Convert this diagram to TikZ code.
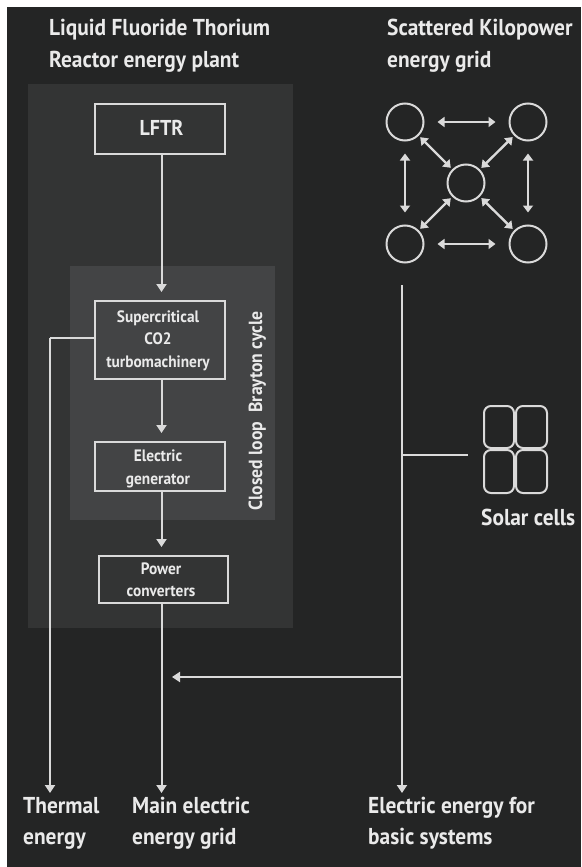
\documentclass[tikz,border=0pt]{standalone}
\usepackage{fontspec}
\setmainfont{PT Sans}[FakeStretch=0.93]
\usetikzlibrary{arrows.meta}
\definecolor{pagebg}{HTML}{242525}
\definecolor{outerpanel}{HTML}{333434}
\definecolor{innerpanel}{HTML}{434445}
\definecolor{ink}{HTML}{EAEAEA}
\definecolor{wire}{HTML}{DADADA}
\tikzset{
  x=1pt,y=-1pt,
  panel/.style={draw=none,inner sep=0pt,anchor=north west},
  headtext/.style={text=ink,font=\fontsize{23}{23}\selectfont\bfseries,inner sep=0pt,anchor=base west},
  labeltext/.style={text=ink,font=\fontsize{23}{23}\selectfont\bfseries,inner sep=0pt,anchor=base west},
  boxtext/.style={text=ink,font=\fontsize{16.5}{16.5}\selectfont\bfseries,inner sep=0pt,anchor=base},
  stage/.style={draw=wire,line width=2pt,inner sep=0pt,anchor=north west},
  wireline/.style={draw=wire,line width=2pt},
  flow/.style={wireline,-{Triangle[width=10pt,length=8pt]}},
  stageflow/.style={flow,shorten >=8pt},
  both/.style={draw=wire,line width=2.4pt,{Triangle[width=10pt,length=7pt]}-{Triangle[width=10pt,length=7pt]}},
  hub/.style={circle,draw=wire,line width=2pt,minimum size=37pt,inner sep=0pt},
  cell/.style={draw=wire,line width=2pt,rounded corners=7pt,inner sep=0pt,anchor=north west},
}
\begin{document}
\begin{tikzpicture}
\useasboundingbox (0,0) rectangle (581,867);
\fill[white] (0,0) rectangle (581,867);
\fill[pagebg] (7,7) rectangle (581,867);
% panels
\node[panel,fill=outerpanel,minimum width=265pt,minimum height=544pt] (plant) at (28,84) {};
\node[panel,fill=innerpanel,minimum width=205pt,minimum height=254pt] (loop) at (70,266) {};
% headings
\node[headtext] (h1) at (49,35.5) {Liquid Fluoride Thorium};
\node[headtext] (h2) at (49,67) {Reactor energy plant};
\node[headtext] (h3) at (387,35.5) {Scattered Kilopower};
\node[headtext] (h4) at (387,67) {energy grid};
% stages
\node[stage,minimum width=130pt,minimum height=50pt] (lftr) at (94,103) {};
\node[boxtext,font=\fontsize{21.5}{21.5}\selectfont\bfseries] (lftrt) at (161.5,135) {LFTR};
\node[stage,minimum width=130pt,minimum height=78pt] (sco) at (94,300) {};
\node[boxtext] (s1) at (158,322) {Supercritical};
\node[boxtext] (s2) at (158,344) {CO2};
\node[boxtext] (s3) at (158,367) {turbomachinery};
\node[stage,minimum width=130pt,minimum height=49pt] (gen) at (94,441) {};
\node[boxtext] (g1) at (158,461) {Electric};
\node[boxtext] (g2) at (158,484) {generator};
\node[stage,minimum width=129pt,minimum height=47pt] (conv) at (98,555) {};
\node[boxtext] (c1) at (161,574) {Power};
\node[boxtext] (c2) at (161,596) {converters};
\node[boxtext,rotate=90,font=\fontsize{19}{19}\selectfont\bfseries] (brayton) at (262,411) {Closed loop\ \ Brayton cycle};
% coordinates
\coordinate (thermalEnd) at (50,793);
\coordinate (mainEnd) at (161.5,793);
\coordinate (gridTop) at (402,285);
\coordinate (basicEnd) at (402,793);
\coordinate (solarJoin) at (402,454.5);
\coordinate (solarStub) at (468,454.5);
\coordinate (feedJoin) at (402,677);
\coordinate (feedEnd) at (172,677);
\coordinate (thermalCorner) at (50,338);
% flows
\draw[stageflow] (lftr.south -| 161.5,0) -- (sco.north -| 161.5,0);
\draw[stageflow] (sco.south -| 161.5,0) -- (gen.north -| 161.5,0);
\draw[stageflow] (gen.south -| 161.5,0) -- (conv.north -| 161.5,0);
\draw[flow] (conv.south -| mainEnd) -- (mainEnd);
\draw[wireline] (sco.west |- thermalCorner) -- (thermalCorner);
\draw[flow] (thermalCorner) -- (thermalEnd);
\draw[flow] (gridTop) -- (basicEnd);
\draw[wireline] (solarJoin) -- (solarStub);
\draw[flow] (feedJoin) -- (feedEnd);
% grid
\node[hub] (tl) at (405,122) {};
\node[hub] (tr) at (528,122) {};
\node[hub] (mid) at (466,183) {};
\node[hub] (bl) at (405,244) {};
\node[hub] (br) at (528,244) {};
\draw[both,shorten <=13pt,shorten >=13pt] (tl) -- (tr);
\draw[both,shorten <=13pt,shorten >=13pt] (bl) -- (br);
\draw[both,shorten <=12pt,shorten >=12pt] (tl) -- (bl);
\draw[both,shorten <=12pt,shorten >=12pt] (tr) -- (br);
\draw[both,shorten <=2pt,shorten >=2pt] (tl) -- (mid);
\draw[both,shorten <=2pt,shorten >=2pt] (tr) -- (mid);
\draw[both,shorten <=2pt,shorten >=2pt] (bl) -- (mid);
\draw[both,shorten <=2pt,shorten >=2pt] (br) -- (mid);
% solar cells
\node[cell,minimum width=30pt,minimum height=42pt] (c11) at (483,405) {};
\node[cell,minimum width=31pt,minimum height=42pt] (c12) at (515,405) {};
\node[cell,minimum width=30pt,minimum height=43pt] (c21) at (483,449) {};
\node[cell,minimum width=31pt,minimum height=43pt] (c22) at (515,449) {};
\node[labeltext] (solar) at (481,525) {Solar cells};
% bottom labels
\node[labeltext] (t1) at (23,813) {Thermal};
\node[labeltext] (t2) at (23,844) {energy};
\node[labeltext] (m1) at (132,813) {Main electric};
\node[labeltext] (m2) at (132,844) {energy grid};
\node[labeltext] (e1) at (368,813) {Electric energy for};
\node[labeltext] (e2) at (368,844) {basic systems};
\end{tikzpicture}
\end{document}
